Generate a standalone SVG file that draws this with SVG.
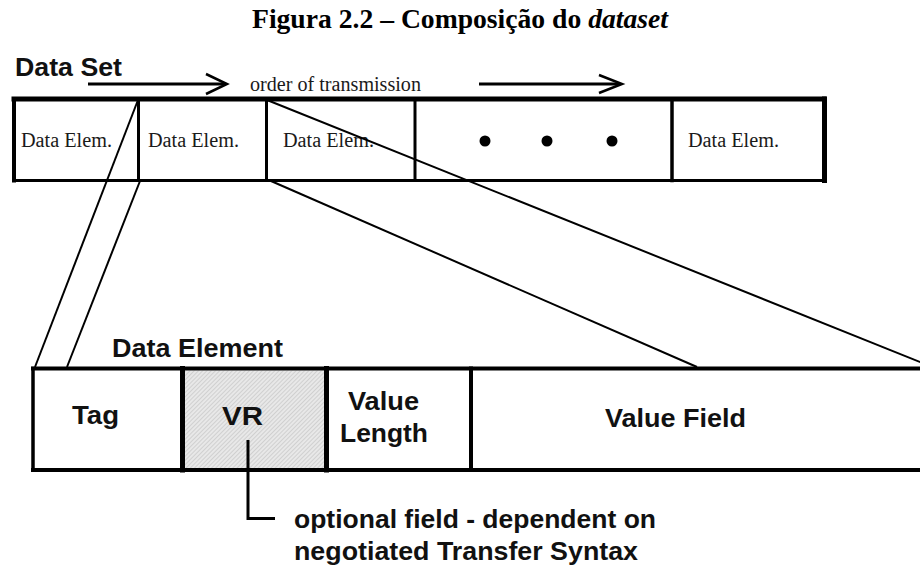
<svg xmlns="http://www.w3.org/2000/svg" width="920" height="567" viewBox="0 0 920 567">
<style>
.sans{font-family:"Liberation Sans",Arial,sans-serif;font-weight:bold;font-size:26px;fill:#111}
.serif{font-family:"Liberation Serif","Times New Roman",serif;font-size:20px;fill:#1a1a1a}
.title{font-family:"Liberation Serif","Times New Roman",serif;font-weight:bold;font-size:26.5px;fill:#000}
.bx{fill:none;stroke:#000;stroke-linecap:square}
.fan{stroke:#000;stroke-width:2;fill:none}
.arr{stroke:#000;stroke-width:3;fill:none}
.head{stroke:#000;stroke-width:2.5;fill:none;stroke-linejoin:miter}
</style>
<defs>
<pattern id="hatch" width="3" height="3" patternUnits="userSpaceOnUse" patternTransform="rotate(45)">
<rect width="3" height="3" fill="#e8e8e8"/>
<line x1="0" y1="0" x2="0" y2="3" stroke="#bdbdbd" stroke-width="1.1"/>
</pattern>
</defs>
<rect width="920" height="567" fill="#fff"/>
<text class="title" x="460" y="28" text-anchor="middle" textLength="416" lengthAdjust="spacingAndGlyphs">Figura 2.2 – Composição do <tspan font-style="italic">dataset</tspan></text>

<g id="dataset">
<text class="sans" x="15" y="76" textLength="107" lengthAdjust="spacingAndGlyphs">Data Set</text>
<line class="bx" x1="14" y1="99" x2="824" y2="99" stroke-width="5"/>
<line class="bx" x1="14" y1="180.5" x2="824" y2="180.5" stroke-width="3"/>
<line class="bx" x1="14" y1="99" x2="14" y2="180.5" stroke-width="4"/>
<line class="bx" x1="824.5" y1="99" x2="824.5" y2="180.5" stroke-width="5"/>
<line class="bx" x1="138.5" y1="99" x2="138.5" y2="180.5" stroke-width="3"/>
<line class="bx" x1="266.5" y1="99" x2="266.5" y2="180.5" stroke-width="3"/>
<line class="bx" x1="415" y1="99" x2="415" y2="180.5" stroke-width="3"/>
<line class="bx" x1="672" y1="99" x2="672" y2="180.5" stroke-width="3.5"/>
<text class="serif" x="21" y="147" textLength="91" lengthAdjust="spacingAndGlyphs">Data Elem.</text>
<text class="serif" x="148" y="147" textLength="91" lengthAdjust="spacingAndGlyphs">Data Elem.</text>
<text class="serif" x="283" y="147" textLength="91" lengthAdjust="spacingAndGlyphs">Data Elem.</text>
<circle cx="485" cy="141" r="5.5" fill="#000"/>
<circle cx="547" cy="141" r="5.5" fill="#000"/>
<circle cx="612" cy="141" r="5.5" fill="#000"/>
<text class="serif" x="688" y="147" textLength="91" lengthAdjust="spacingAndGlyphs">Data Elem.</text>
<text class="serif" x="250" y="91" textLength="171" lengthAdjust="spacingAndGlyphs">order of transmission</text>
</g>

<g id="dataelement">
<text class="sans" x="112" y="357" textLength="171" lengthAdjust="spacingAndGlyphs">Data Element</text>
<rect x="184.5" y="370.5" width="139.5" height="97.5" fill="url(#hatch)"/>
<line class="bx" x1="33" y1="368.5" x2="925" y2="368.5" stroke-width="4"/>
<line class="bx" x1="33" y1="470" x2="925" y2="470" stroke-width="4"/>
<line class="bx" x1="33" y1="368.5" x2="33" y2="470" stroke-width="3.5"/>
<line class="bx" x1="182.5" y1="368.5" x2="182.5" y2="470" stroke-width="5"/>
<line class="bx" x1="326.5" y1="368.5" x2="326.5" y2="470" stroke-width="5"/>
<line class="bx" x1="471" y1="368.5" x2="471" y2="470" stroke-width="4"/>
<text class="sans" x="72" y="424" textLength="47" lengthAdjust="spacingAndGlyphs">Tag</text>
<text class="sans" x="222" y="425" font-size="28" textLength="41" lengthAdjust="spacingAndGlyphs">VR</text>
<text class="sans" x="348" y="410" textLength="71" lengthAdjust="spacingAndGlyphs">Value</text>
<text class="sans" x="340" y="442" textLength="88" lengthAdjust="spacingAndGlyphs">Length</text>
<text class="sans" x="605" y="427" textLength="141" lengthAdjust="spacingAndGlyphs">Value Field</text>
</g>

<g id="note">
<text class="sans" x="294" y="528" textLength="362" lengthAdjust="spacingAndGlyphs">optional field - dependent on</text>
<text class="sans" x="294" y="560" textLength="344" lengthAdjust="spacingAndGlyphs">negotiated Transfer Syntax</text>
</g>

<g id="connectors">
<line class="fan" x1="138" y1="100" x2="35" y2="367"/>
<line class="fan" x1="140" y1="181" x2="67" y2="367"/>
<line class="fan" x1="267" y1="100" x2="930" y2="366"/>
<line class="fan" x1="271" y1="181" x2="697" y2="367"/>
<line class="arr" x1="88" y1="84" x2="225" y2="84"/>
<polyline class="head" points="206,74 227,84 206,94"/>
<line class="arr" x1="479" y1="84" x2="620" y2="84"/>
<polyline class="head" points="599,75 622,84 599,93"/>
<polyline fill="none" stroke="#000" stroke-width="3" points="248,440 248,518.5 275,518.5"/>
</g>
</svg>
